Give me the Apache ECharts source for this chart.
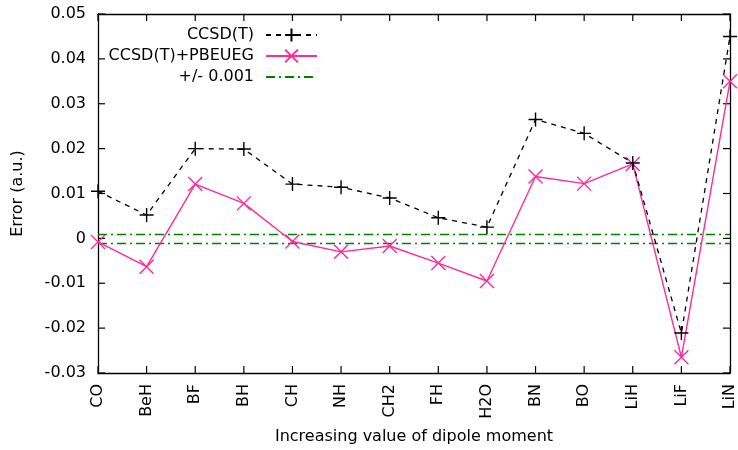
<!DOCTYPE html>
<html>
<head>
<meta charset="utf-8">
<script src="https://cdn.jsdelivr.net/npm/echarts@6/dist/echarts.min.js"></script>
<style>html,body{margin:0;padding:0;background:#fff;}#c{width:738px;height:450px;}</style>
</head>
<body>
<div id="c"></div>
<script>
const categories = ['CO','BeH','BF','BH','CH','NH','CH2','FH','H2O','BN','BO','LiH','LiF','LiN'];
const ccsdt = [0.0105, 0.0052, 0.0200, 0.0199, 0.0121, 0.0114, 0.0090, 0.0046, 0.0025, 0.0265, 0.0234, 0.0168, -0.0211, 0.0450];
const ccsdtPbeueg = [-0.0008, -0.0063, 0.0121, 0.0078, -0.0007, -0.0030, -0.0017, -0.0055, -0.0095, 0.0138, 0.0122, 0.0166, -0.0265, 0.0350];
const thresholds = [0.001, -0.001];
const seriesNames = ['CCSD(T)', 'CCSD(T)+PBEUEG', '+/- 0.001'];
const yTickValues = [-0.03, -0.02, -0.01, 0, 0.01, 0.02, 0.03, 0.04, 0.05];
const yTicks = { min: -0.03, max: 0.05, interval: 0.01 };

const FONT = 'DejaVu Sans';
const FS = 16;
const PINK = '#ff2a9d';
const GREEN = '#007f00';
const DASHDOT = [9, 4, 2, 4];
const TICK_LEN = 7;
const plusPath = 'path://M5,0L5,10M0,5L10,5';
const crossPath = 'path://M0,0L10,10M10,0L0,10';

const chart = echarts.init(document.getElementById('c'), null, {renderer: 'canvas'});

function legendFor(name, centerY, hideSymbol) {
  const l = {
    data: [name],
    right: 415,
    top: centerY - 8,
    itemWidth: 51,
    itemHeight: 16,
    align: 'right',
    selectedMode: false,
    textStyle: {fontFamily: FONT, fontSize: FS, color: '#000', padding: [0, 7, 0, 0]}
  };
  if (hideSymbol) l.itemStyle = {opacity: 0};
  return l;
}

function xBorder(position) {
  return {
    type: 'category', data: categories, boundaryGap: false, position: position,
    axisLine: {show: true, onZero: false, lineStyle: {color: '#000', width: 1.3}},
    axisTick: {show: false}, axisLabel: {show: false}, splitLine: {show: false}
  };
}
function yBorder(position) {
  return {
    type: 'value', position: position,
    min: yTicks.min, max: yTicks.max, interval: yTicks.interval,
    axisLine: {show: true, onZero: false, lineStyle: {color: '#000', width: 1.3}},
    axisTick: {show: false}, axisLabel: {show: false}, splitLine: {show: false}
  };
}

const xMain = xBorder('bottom');
Object.assign(xMain, {
  name: 'Increasing value of dipole moment',
  nameLocation: 'middle',
  nameGap: 56,
  nameTextStyle: {fontFamily: FONT, fontSize: FS, color: '#000'},
  axisLabel: {show: true, rotate: 90, interval: 0, margin: 11, fontFamily: FONT, fontSize: FS, color: '#000'}
});

const yMain = yBorder('left');
Object.assign(yMain, {
  name: 'Error (a.u.)',
  nameLocation: 'middle',
  nameGap: 72,
  nameTextStyle: {fontFamily: FONT, fontSize: FS, color: '#000'},
  axisLabel: {show: true, margin: 12, fontFamily: FONT, fontSize: FS, color: '#000',
    formatter: v => String(Math.round(v * 100) / 100)}
});

// Inward-pointing border ticks, placed through the axes' own scales
function renderTicks(params, api) {
  const children = [];
  const style = {stroke: '#000', lineWidth: 1.2, fill: null};
  const last = categories.length - 1;
  for (let i = 0; i < categories.length; i++) {
    const b = api.coord([i, yTicks.min]);
    const t = api.coord([i, yTicks.max]);
    children.push({type: 'line', shape: {x1: b[0], y1: b[1], x2: b[0], y2: b[1] - TICK_LEN}, style: style});
    children.push({type: 'line', shape: {x1: t[0], y1: t[1], x2: t[0], y2: t[1] + TICK_LEN}, style: style});
  }
  yTickValues.forEach(v => {
    const l = api.coord([0, v]);
    const r = api.coord([last, v]);
    children.push({type: 'line', shape: {x1: l[0], y1: l[1], x2: l[0] + TICK_LEN, y2: l[1]}, style: style});
    children.push({type: 'line', shape: {x1: r[0], y1: r[1], x2: r[0] - TICK_LEN, y2: r[1]}, style: style});
  });
  return {type: 'group', children: children};
}

const option = {
  animation: false,
  backgroundColor: '#fff',
  grid: {left: 98, right: 8, top: 14, bottom: 74},
  legend: [legendFor(seriesNames[0], 30), legendFor(seriesNames[1], 51), legendFor(seriesNames[2], 72, true)],
  xAxis: [xMain, xBorder('top')],
  yAxis: [yMain, yBorder('right')],
  series: [{
    name: 'ticks',
    type: 'custom',
    renderItem: renderTicks,
    data: [[0, 0]],
    clip: false,
    silent: true,
    z: 0
  }, {
    name: seriesNames[2],
    type: 'line',
    data: [],
    symbol: 'none',
    itemStyle: {color: GREEN},
    lineStyle: {color: GREEN, width: 1.4, type: DASHDOT},
    z: 1
  }, {
    name: seriesNames[0],
    type: 'line',
    data: ccsdt,
    symbol: plusPath,
    symbolSize: 14,
    itemStyle: {color: '#000', borderColor: '#000', borderWidth: 1.4},
    lineStyle: {color: '#000', width: 1.3, type: [5, 5]},
    markLine: {
      silent: true,
      symbol: ['none', 'none'],
      label: {show: false},
      lineStyle: {color: GREEN, width: 1.4, type: DASHDOT},
      data: thresholds.map(t => [
        {coord: [0, t]},
        {coord: [categories.length - 1, t]}
      ]),
      z: 1
    },
    z: 3
  }, {
    name: seriesNames[1],
    type: 'line',
    data: ccsdtPbeueg,
    symbol: crossPath,
    symbolSize: 14,
    itemStyle: {color: PINK, borderColor: PINK, borderWidth: 1.4},
    lineStyle: {color: PINK, width: 1.4},
    z: 2
  }]
};
chart.setOption(option);
</script>
</body>
</html>
